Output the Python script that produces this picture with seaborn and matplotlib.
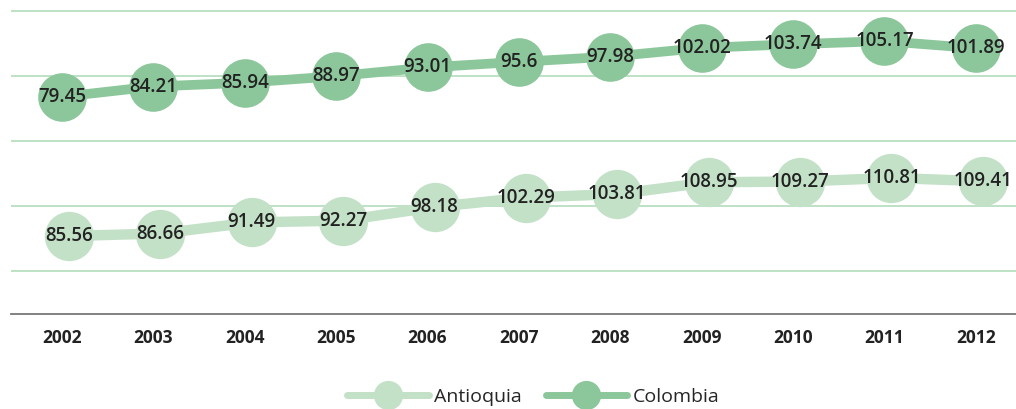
import numpy as np
import seaborn as sns
import matplotlib.pyplot as plt
from matplotlib.lines import Line2D

years = ['2002', '2003', '2004', '2005', '2006', '2007',
         '2008', '2009', '2010', '2011', '2012']
colombia = [79.45, 84.21, 85.94, 88.97, 93.01, 95.6,
            97.98, 102.02, 103.74, 105.17, 101.89]
antioquia = [85.56, 86.66, 91.49, 92.27, 98.18, 102.29,
             103.81, 108.95, 109.27, 110.81, 109.41]

col_colombia = '#8cc79b'
col_antioquia = '#c3e1c7'
grid_col = '#b9dfc1'

sns.set_style('white')
plt.rcParams['font.family'] = ['Open Sans', 'DejaVu Sans']

fig = plt.figure(figsize=(10.16, 4.09), dpi=100)
rect = [11 / 1016, 1 - 314 / 409, 1 - 11 / 1016, (314 - 9) / 409]

# eje principal: Colombia + rejilla
ax = fig.add_axes(rect)
# eje superpuesto: Antioquia (escala propia)
ax2 = fig.add_axes(rect)
ax2.patch.set_visible(False)

x = np.arange(len(years))

sns.lineplot(x=x, y=colombia, ax=ax, color=col_colombia, linewidth=7,
             marker='o', markersize=35, markeredgewidth=0, zorder=3)
sns.lineplot(x=x, y=antioquia, ax=ax2, color=col_antioquia, linewidth=7.5,
             marker='o', markersize=35.5, markeredgewidth=0, zorder=3)

for xi, v in zip(x, colombia):
    ax.text(xi, v, f'{v:g}', ha='center', va='center', fontsize=13.5,
            fontweight='semibold', color='#222222', zorder=5)
for xi, v in zip(x, antioquia):
    ax2.text(xi, v, f'{v:g}', ha='center', va='center', fontsize=13.5,
             fontweight='semibold', color='#222222', zorder=5)

# limites
ax.set_xlim(-0.558, 10.44)
ax2.set_xlim(-0.558 - 0.077, 10.44 - 0.077)
ax.set_ylim(-20.85, 120)
ax2.set_ylim(51.65, 184.3)

# rejilla
ax.set_yticks([-1, 29, 59, 89, 119])
ax.yaxis.grid(True, color=grid_col, linewidth=1.3)
ax.set_yticklabels([])
ax.tick_params(axis='y', length=0)
ax2.set_yticks([])

ax.set_xticks(x)
ax.set_xticklabels(years, fontsize=12.5, fontweight='bold', color='#222222')
ax.tick_params(axis='x', length=0, pad=11)
ax2.set_xticks([])

for a in (ax, ax2):
    for s in ['top', 'right', 'left', 'bottom']:
        a.spines[s].set_visible(False)
ax.spines['bottom'].set_visible(True)
ax.spines['bottom'].set_color('#777777')
ax.spines['bottom'].set_linewidth(1.3)

handles = [
    Line2D([], [], color=col_antioquia, linewidth=5, marker='o',
           markersize=21, markeredgewidth=0),
    Line2D([], [], color=col_colombia, linewidth=5, marker='o',
           markersize=21, markeredgewidth=0),
]
fig.legend(handles, ['Antioquia', 'Colombia'], loc='center',
           bbox_to_anchor=(0.525, 0.03), ncol=2, frameon=False,
           fontsize=14, handlelength=4.2, handletextpad=0.3,
           columnspacing=1.2)

fig.savefig('out.png', dpi=100)
